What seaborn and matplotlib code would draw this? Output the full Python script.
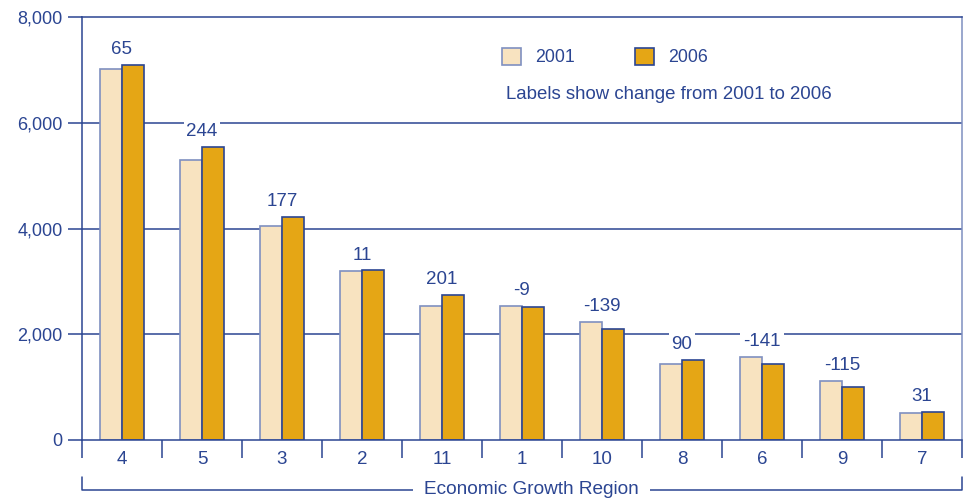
import matplotlib
matplotlib.use("Agg")
import matplotlib.pyplot as plt
import matplotlib.patches as mpatches
import matplotlib.transforms as mtransforms
import pandas as pd
import seaborn as sns

# data
regions = ["4", "5", "3", "2", "11", "1", "10", "8", "6", "9", "7"]
val_2001 = [7025, 5300, 4040, 3195, 2540, 2533, 2230, 1430, 1570, 1125, 505]
val_2006 = [7090, 5544, 4217, 3206, 2741, 2524, 2091, 1520, 1429, 1010, 536]
changes = ["65", "244", "177", "11", "201", "-9", "-139", "90", "-141", "-115", "31"]
years = ["2001", "2006"]
yticks = [0, 2000, 4000, 6000, 8000]

navy = "#2B4592"
light_edge = "#7F90C0"
fill_2001 = "#F8E3C0"
fill_2006 = "#E5A615"

df = pd.DataFrame({
    "region": regions * 2,
    "year": [years[0]] * len(regions) + [years[1]] * len(regions),
    "value": val_2001 + val_2006,
})

sns.set_style("white")
plt.rcParams["font.family"] = ["Liberation Sans", "DejaVu Sans"]

fig, ax = plt.subplots(figsize=(9.68, 5.0), dpi=100)
fig.subplots_adjust(left=0.0847, right=0.9938, top=0.966, bottom=0.12)

# gridlines behind bars
for v in yticks[1:-1]:
    ax.axhline(v, color=navy, lw=1.1, zorder=0)

sns.barplot(data=df, x="region", y="value", hue="year", order=regions,
            hue_order=years, palette=[fill_2001, fill_2006], width=0.56,
            saturation=1, legend=False, ax=ax, zorder=2)

for bar in ax.containers[0]:
    bar.set_edgecolor(light_edge)
    bar.set_linewidth(1.2)
for bar in ax.containers[1]:
    bar.set_edgecolor(navy)
    bar.set_linewidth(1.2)

# change labels over each pair
for i, lab in enumerate(changes):
    top = max(val_2001[i], val_2006[i])
    ax.annotate(lab, (i, top), xytext=(0, 5), textcoords="offset points",
                ha="center", va="bottom", fontsize=13.5, color=navy, zorder=4,
                bbox=dict(facecolor="white", edgecolor="none", pad=2))

ax.set_ylim(0, 8000)
ax.set_xlim(-0.5, len(regions) - 0.5)
ax.set_yticks(yticks)
ax.set_yticklabels([f"{v:,}" for v in yticks])
ax.set_xlabel("")
ax.set_ylabel("")

ax.tick_params(axis="y", length=10, width=1.1, color=navy, labelcolor=navy,
               labelsize=13, pad=4, left=True)
ax.tick_params(axis="x", which="major", length=0, labelcolor=navy,
               labelsize=13.5, pad=8)
ax.set_xticks([i - 0.5 for i in range(len(regions) + 1)], minor=True)
ax.tick_params(axis="x", which="minor", length=13, width=1.1, color=navy,
               bottom=True)

for side in ["left", "top", "bottom"]:
    ax.spines[side].set_color(navy)
    ax.spines[side].set_linewidth(1.1)
ax.spines["right"].set_color(light_edge)
ax.spines["right"].set_linewidth(1.1)

# bracket under the categories
trans = mtransforms.blended_transform_factory(ax.transAxes, ax.transAxes)
ax.plot([0, 0, 1, 1], [-0.087, -0.118, -0.118, -0.087], color=navy, lw=1.1,
        transform=trans, clip_on=False)
ax.text(0.511, -0.118, "Economic Growth Region", transform=trans, ha="center",
        va="center", fontsize=13.7, color=navy,
        bbox=dict(facecolor="white", edgecolor="none", pad=8))

# legend
handles = [mpatches.Patch(facecolor=fill_2001, edgecolor=light_edge, lw=1.2),
           mpatches.Patch(facecolor=fill_2006, edgecolor=navy, lw=1.2)]
ax.legend(handles, years, loc="center left", bbox_to_anchor=(0.477, 0.905),
          ncol=2, frameon=False, fontsize=12.8, labelcolor=navy,
          handlelength=1.1, handleheight=1.1, handletextpad=0.75,
          columnspacing=3.4, borderpad=0, borderaxespad=0)
ax.text(0.482, 0.816, "Labels show change from 2001 to 2006", transform=ax.transAxes,
        ha="left", va="center", fontsize=13.4, color=navy)

fig.savefig("out.png", dpi=100)
